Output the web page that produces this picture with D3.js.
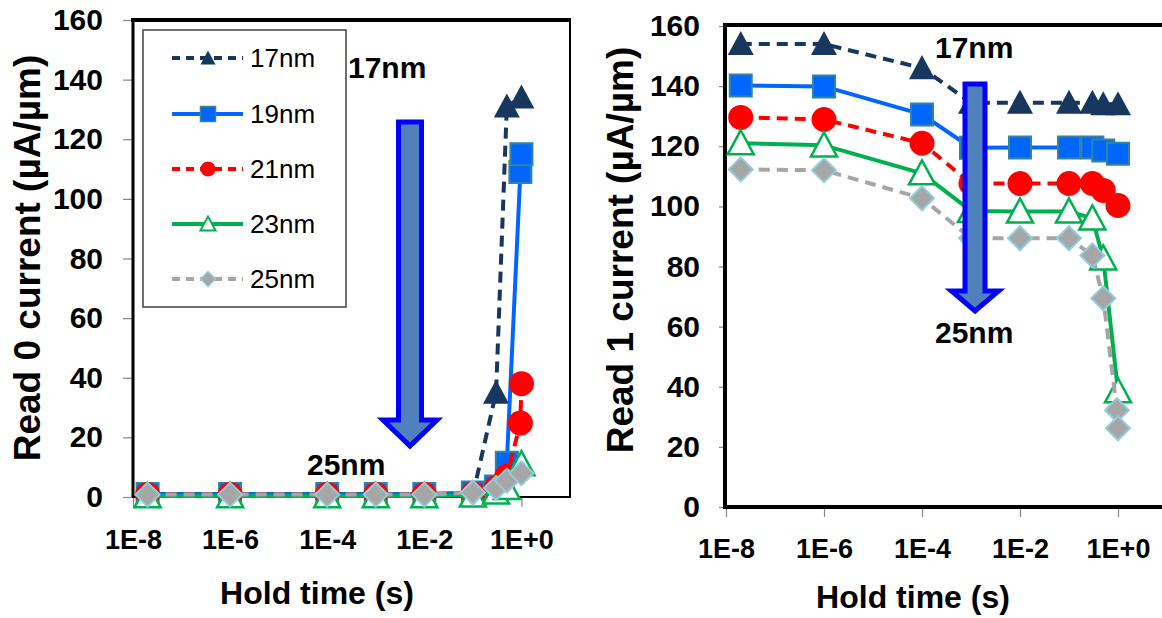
<!DOCTYPE html>
<html><head><meta charset="utf-8">
<script src="https://cdn.jsdelivr.net/npm/d3@7"></script>
<style>
html,body{margin:0;padding:0;background:#fff;}
svg{display:block;font-family:"Liberation Sans",Arial,sans-serif;}
</style></head><body>
<svg id="c" width="1162" height="618"></svg>
<script>
// ---------- data ----------
const holdTime = [2e-8, 1e-6, 1e-4, 1e-3, 1e-2, 0.1, 0.3, 0.5, 0.95, 1];
const seriesNames = ["17nm", "19nm", "21nm", "23nm", "25nm"];
const read0_17 = [0.8, 0.8, 0.8, 0.8, 0.8, 0.8, 35, 131, null, 134];
const read0_19 = [1, 1, 1, 1, 1, 1.5, 3.5, 11.5, 109, 115];
const read0_21 = [0.8, 0.8, 0.8, 0.8, 0.8, 1, 3, 7, 24.8, 38];
const read0_23 = [0.3, 0.3, 0.3, 0.3, 0.3, 0.5, 1.5, 3, null, 11];
const read0_25 = [0.8, 0.8, 0.8, 0.8, 0.8, 1.5, 3, 5.5, null, 8];
const read1_17 = [154, 154, 146, 134.5, 134.5, 134.5, 134.5, 134, null, 134];
const read1_19 = [140.2, 139.9, 130.6, 119.5, 119.6, 119.6, 119.6, 118.6, null, 117.5];
const read1_21 = [129.6, 128.9, 121, 107.6, 107.6, 107.6, 107.6, 105.3, null, 100.3];
const read1_23 = [121, 120.3, 111, 98.5, 98.3, 98.3, 96, 82.7, null, 38.5];
const read1_25 = [112.3, 112, 102.7, 89.4, 89.4, 89.4, 83.7, 69.4, 32.2, 26.2];
const xTickValues = [1e-8, 1e-6, 1e-4, 1e-2, 1];
const xTickLabels = ["1E-8", "1E-6", "1E-4", "1E-2", "1E+0"];
const yTickValues = [0, 20, 40, 60, 80, 100, 120, 140, 160];
const xTitle = "Hold time (s)";
const yTitleLeft = "Read 0 current (µA/µm)";
const yTitleRight = "Read 1 current (µA/µm)";

// ---------- styles ----------
const styles = [
  {color: "#17375E", dash: "11,7", marker: "tri", fill: "#17375E", stroke: "none"},
  {color: "#0066FF", dash: null, marker: "sq", fill: "#0066FF", stroke: "#31859C"},
  {color: "#FF0000", dash: "11,7", marker: "circ", fill: "#FF0000", stroke: "none"},
  {color: "#00B050", dash: null, marker: "tri", fill: "#FFFFFF", stroke: "#00B050"},
  {color: "#A6A6A6", dash: "11,7", marker: "dia", fill: "#A6A6A6", stroke: "#92CDDC"}
];

const svg = d3.select("#c");

function markerPath(type, s) {
  const h = s / 2;
  if (type === "tri") return `M0,${-h}L${h},${h*0.85}L${-h},${h*0.85}Z`;
  if (type === "sq") return `M${-h},${-h}H${h}V${h}H${-h}Z`;
  if (type === "dia") return `M0,${-h}L${h},0L0,${h}L${-h},0Z`;
  if (type === "circ") return d3.arc()({innerRadius: 0, outerRadius: h, startAngle: 0, endAngle: 2 * Math.PI});
}

function drawChart(opt) {
  const g = svg.append("g");
  const x = d3.scaleLog().domain([1e-8, 10]).range(opt.xr);
  const y = d3.scaleLinear().domain([0, 160]).range(opt.yr);

  const ya = g.append("g").attr("transform", `translate(${opt.xr[0]},0)`)
    .call(d3.axisLeft(y).tickValues(yTickValues).tickSize(opt.ytick).tickPadding(opt.ypad).tickFormat(d3.format("d")));
  ya.select(".domain").remove();
  ya.selectAll(".tick line").attr("stroke", "#868686").attr("stroke-width", 1.2);
  ya.selectAll(".tick text").attr("font-size", 30).attr("font-weight", "bold").attr("fill", "#000")
    .attr("font-family", "'Liberation Sans', Arial, sans-serif");

  const xa = g.append("g").attr("transform", `translate(0,${opt.yr[0]})`)
    .call(d3.axisBottom(x).tickValues(xTickValues).tickSize(10).tickPadding(opt.xpad)
      .tickFormat((d, i) => xTickLabels[i]));
  xa.select(".domain").remove();
  xa.selectAll(".tick line").attr("stroke", "#868686").attr("stroke-width", 1.2);
  xa.selectAll(".tick text").attr("font-size", 27).attr("font-weight", "bold").attr("fill", "#000")
    .attr("font-family", "'Liberation Sans', Arial, sans-serif");

  opt.frame(g, x, y);

  const lineGen = d3.line().x(d => x(d[0])).y(d => y(d[1]));
  opt.series.forEach((vals, i) => {
    const st = styles[i];
    const pts = holdTime.map((t, j) => [t, vals[j]]).filter(d => d[1] !== null);
    g.append("path").attr("d", lineGen(pts)).attr("fill", "none")
      .attr("stroke", st.color).attr("stroke-width", 4)
      .attr("stroke-dasharray", st.dash).attr("stroke-linejoin", "round");
    g.selectAll(null).data(pts).enter().append("path")
      .attr("transform", d => `translate(${x(d[0])},${y(d[1])})`)
      .attr("d", markerPath(st.marker, st.marker === "circ" ? 25 : st.marker === "sq" ? 22 : st.marker === "dia" ? 24 : 26))
      .attr("fill", st.fill).attr("stroke", st.stroke).attr("stroke-width", st.marker === "tri" ? 2.5 : 2);
  });
  return {g, x, y};
}

// ---------- left chart ----------
drawChart({
  xr: [133, 570], yr: [497, 20], ytick: 10, ypad: 20, xpad: 23,
  series: [read0_17, read0_19, read0_21, read0_23, read0_25],
  frame: (g) => {
    g.append("rect").attr("x", 133).attr("y", 20).attr("width", 437).attr("height", 477)
      .attr("fill", "none").attr("stroke", "#000").attr("stroke-width", 2);
    g.append("line").attr("x1", 131).attr("x2", 571).attr("y1", 20).attr("y2", 20).attr("stroke", "#000").attr("stroke-width", 4);
    g.append("line").attr("x1", 133).attr("x2", 133).attr("y1", 20).attr("y2", 497).attr("stroke", "#000").attr("stroke-width", 3);
  }
});

// ---------- right chart ----------
drawChart({
  xr: [726, 1167], yr: [507, 26], ytick: 7, ypad: 19, xpad: 22,
  series: [read1_17, read1_19, read1_21, read1_23, read1_25],
  frame: (g) => {
    g.append("line").attr("x1", 723).attr("x2", 1162).attr("y1", 25).attr("y2", 25).attr("stroke", "#000").attr("stroke-width", 4);
    g.append("line").attr("x1", 725).attr("x2", 725).attr("y1", 23).attr("y2", 509).attr("stroke", "#000").attr("stroke-width", 4);
    g.append("line").attr("x1", 723).attr("x2", 1162).attr("y1", 507).attr("y2", 507).attr("stroke", "#000").attr("stroke-width", 4);
  }
});

// ---------- legend ----------
const leg = svg.append("g");
leg.append("rect").attr("x", 143).attr("y", 30).attr("width", 203).attr("height", 277)
  .attr("fill", "#fff").attr("stroke", "#404040").attr("stroke-width", 1.5);
const legRows = [58, 114, 169, 224, 279];
seriesNames.forEach((name, i) => {
  const st = styles[i];
  const yy = legRows[i];
  leg.append("line").attr("x1", 172).attr("x2", 243).attr("y1", yy).attr("y2", yy)
    .attr("stroke", st.color).attr("stroke-width", 4).attr("stroke-dasharray", st.dash ? "8,6" : null);
  leg.append("path").attr("transform", `translate(208,${yy})`)
    .attr("d", markerPath(st.marker, 15))
    .attr("fill", st.fill).attr("stroke", st.stroke).attr("stroke-width", st.marker === "tri" ? 2 : 1.5);
  leg.append("text").attr("x", 250).attr("y", yy + 9).attr("font-size", 26).attr("fill", "#000").text(name);
});

// ---------- arrows & annotations ----------
function arrow(cx, top, headStart, tip, sw, hw) {
  svg.append("path")
    .attr("d", `M${cx - sw},${top}H${cx + sw}V${headStart}H${cx + hw}L${cx},${tip}L${cx - hw},${headStart}H${cx - sw}Z`)
    .attr("fill", "#4F81BD").attr("stroke", "#0000FF").attr("stroke-width", 5).attr("stroke-linejoin", "miter");
}
arrow(410, 122, 420, 446, 11.5, 27);
arrow(975, 84, 291, 311, 10, 23.5);

function note(x, y, t) {
  svg.append("text").attr("x", x).attr("y", y).attr("font-size", 30).attr("font-weight", "bold").attr("fill", "#000").text(t);
}
note(348, 78, "17nm");
note(307, 475, "25nm");
note(935, 58, "17nm");
note(935, 343, "25nm");

// ---------- titles ----------
svg.append("text").attr("x", 317).attr("y", 604).attr("text-anchor", "middle")
  .attr("font-size", 32).attr("font-weight", "bold").text(xTitle);
svg.append("text").attr("x", 913).attr("y", 608).attr("text-anchor", "middle")
  .attr("font-size", 32).attr("font-weight", "bold").text(xTitle);
svg.append("text").attr("transform", "translate(40,258) rotate(-90)").attr("text-anchor", "middle")
  .attr("font-size", 37).attr("font-weight", "bold").text(yTitleLeft);
svg.append("text").attr("transform", "translate(633,250) rotate(-90)").attr("text-anchor", "middle")
  .attr("font-size", 37).attr("font-weight", "bold").text(yTitleRight);
</script>
</body></html>
